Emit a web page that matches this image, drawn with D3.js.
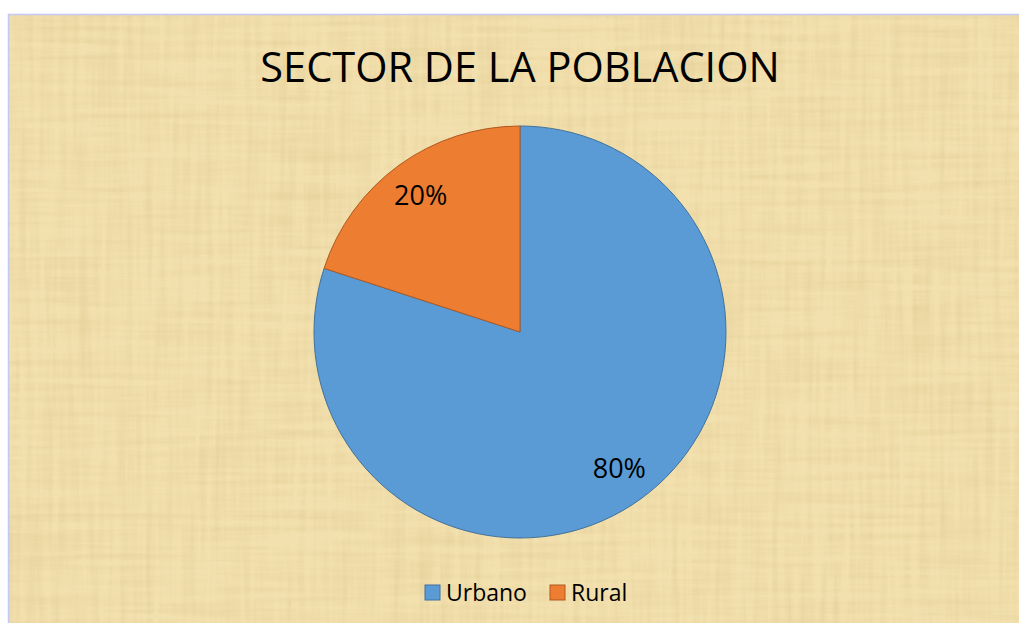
<!DOCTYPE html>
<html>
<head>
<meta charset="utf-8">
<script src="https://cdn.jsdelivr.net/npm/d3@7"></script>
<style>
  html, body { margin: 0; padding: 0; background: #fff; }
  svg { display: block; }
</style>
</head>
<body>
<svg id="chart"></svg>
<script>
const categories = ["Urbano", "Rural"];
const values = [80, 20];
const labels = ["80%", "20%"];
const colors = ["#5b9bd5", "#ed7d31"];
const strokes = ["#41719c", "#ae5a21"];
const title = "SECTOR DE LA POBLACION";

const width = 1019, height = 623;
const svg = d3.select("#chart").attr("width", width).attr("height", height);

// papyrus-like background
const defs = svg.append("defs");
const f = defs.append("filter").attr("id", "papyrus")
    .attr("x", 0).attr("y", 0).attr("width", "100%").attr("height", "100%");
f.append("feTurbulence").attr("type", "fractalNoise")
    .attr("baseFrequency", "0.008 0.15").attr("numOctaves", 3).attr("seed", 4).attr("result", "h");
f.append("feTurbulence").attr("type", "fractalNoise")
    .attr("baseFrequency", "0.15 0.008").attr("numOctaves", 3).attr("seed", 9).attr("result", "v");
f.append("feComposite").attr("in", "h").attr("in2", "v").attr("operator", "arithmetic")
    .attr("k1", 0).attr("k2", 0.5).attr("k3", 0.5).attr("k4", 0).attr("result", "n");
f.append("feColorMatrix").attr("in", "n").attr("type", "matrix")
    .attr("values", "0 0 0 0 0.72  0 0 0 0 0.56  0 0 0 0 0.26  -1.1 0 0 0 0.68")
    .attr("result", "tint");
f.append("feComposite").attr("in", "tint").attr("in2", "SourceGraphic").attr("operator", "in");

const bg = svg.append("g");
bg.append("rect").attr("x", 8).attr("y", 14).attr("width", width - 8).attr("height", height - 14)
    .attr("fill", "#f2e0ae");
bg.append("rect").attr("x", 8).attr("y", 14).attr("width", width - 8).attr("height", height - 14)
    .attr("fill", "#f2e0ae").attr("filter", "url(#papyrus)");
bg.append("line").attr("x1", 8).attr("y1", 14.5).attr("x2", width).attr("y2", 14.5)
    .attr("stroke", "#c4c8f4").attr("stroke-width", 1.5);
bg.append("line").attr("x1", 8.5).attr("y1", 14).attr("x2", 8.5).attr("y2", height)
    .attr("stroke", "#c4c8f4").attr("stroke-width", 1.5);

svg.append("text")
    .attr("x", 520).attr("y", 82)
    .attr("text-anchor", "middle")
    .attr("font-family", "Open Sans, sans-serif")
    .attr("font-size", 41.5)
    .attr("fill", "#000")
    .text(title);

const cx = 520, cy = 332, r = 206;
const pie = d3.pie().sort(null).value(d => d)(values);
const arc = d3.arc().innerRadius(0).outerRadius(r);
const labelArc = d3.arc().innerRadius(r * 0.82).outerRadius(r * 0.82);

const g = svg.append("g").attr("transform", `translate(${cx},${cy})`);
g.selectAll("path").data(pie).enter().append("path")
    .attr("d", arc)
    .attr("fill", (d, i) => colors[i])
    .attr("stroke", (d, i) => strokes[i])
    .attr("stroke-width", 1);

g.selectAll("text").data(pie).enter().append("text")
    .attr("transform", d => `translate(${labelArc.centroid(d)})`)
    .attr("text-anchor", "middle")
    .attr("dy", "0.35em")
    .attr("font-family", "Open Sans, sans-serif")
    .attr("font-size", 27)
    .attr("fill", "#000")
    .text((d, i) => labels[i]);

// legend
const legend = svg.append("g").attr("font-family", "Open Sans, sans-serif").attr("font-size", 23);
const legendX = [425, 550];
categories.forEach((c, i) => {
  const lg = legend.append("g").attr("transform", `translate(${legendX[i]},585)`);
  lg.append("rect").attr("width", 15).attr("height", 15)
      .attr("fill", colors[i]).attr("stroke", strokes[i]);
  lg.append("text").attr("x", 21).attr("y", 16).text(c);
});
</script>
</body>
</html>
